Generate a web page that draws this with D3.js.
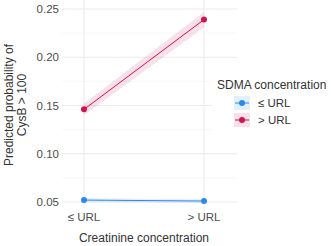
<!DOCTYPE html>
<html><head><meta charset="utf-8">
<script src="https://cdn.jsdelivr.net/npm/d3@7"></script>
<style>body{margin:0;background:#fff}svg{display:block;font-family:"Liberation Sans",Arial,sans-serif}</style>
</head><body><svg id="c" width="331" height="246"></svg>
<script>
const categories = ["≤ URL", "> URL"];
const seriesNames = ["≤ URL", "> URL"];
const seriesColors = ["#2a8ae8", "#cc1452"];
const estLow = [0.052, 0.051];
const lowerLow = [0.050, 0.049];
const upperLow = [0.054, 0.053];
const estHigh = [0.146, 0.239];
const lowerHigh = [0.140, 0.231];
const upperHigh = [0.152, 0.247];
const yTicks = [0.05, 0.10, 0.15, 0.20, 0.25];
const yMinor = [0.075, 0.125, 0.175, 0.225];

const svg = d3.select("#c");
const x = d3.scalePoint().domain(categories).range([84, 204]);
const y = d3.scaleLinear().domain([0.05, 0.25]).range([202, 9]);
const L = 62, R = 237, T = 0, B = 208;

const g = svg.append("g");
g.selectAll(".minor").data(yMinor).join("line")
  .attr("x1", L).attr("x2", R).attr("y1", d => y(d)).attr("y2", d => y(d))
  .attr("stroke", "#f2f2f2").attr("stroke-width", 0.6);
g.selectAll(".major").data(yTicks).join("line")
  .attr("x1", L).attr("x2", R).attr("y1", d => y(d)).attr("y2", d => y(d))
  .attr("stroke", "#ebebeb").attr("stroke-width", 1);
g.selectAll(".vx").data(categories).join("line")
  .attr("x1", d => x(d)).attr("x2", d => x(d)).attr("y1", T).attr("y2", B)
  .attr("stroke", "#ebebeb").attr("stroke-width", 1);

const series = [
  {est: estLow, lo: lowerLow, hi: upperLow, color: seriesColors[0]},
  {est: estHigh, lo: lowerHigh, hi: upperHigh, color: seriesColors[1]}
];
series.forEach(s => {
  const pts = categories.map((c, i) => ({c, e: s.est[i], lo: s.lo[i], hi: s.hi[i]}));
  g.append("path").datum(pts)
    .attr("d", d3.area().x(d => x(d.c)).y0(d => y(d.lo)).y1(d => y(d.hi)))
    .attr("fill", s.color).attr("fill-opacity", 0.13);
  g.append("path").datum(pts)
    .attr("d", d3.line().x(d => x(d.c)).y(d => y(d.e)))
    .attr("stroke", s.color).attr("stroke-width", 1).attr("fill", "none");
  g.selectAll(null).data(pts).join("circle")
    .attr("cx", d => x(d.c)).attr("cy", d => y(d.e)).attr("r", 3)
    .attr("fill", s.color);
});

// y tick labels
svg.append("g").selectAll("text").data(yTicks).join("text")
  .attr("x", 59).attr("y", d => y(d)).attr("dy", "0.35em")
  .attr("text-anchor", "end").attr("font-size", 11.5).attr("fill", "#4d4d4d")
  .text(d => d3.format(".2f")(d));
// x tick labels
svg.append("g").selectAll("text").data(categories).join("text")
  .attr("x", d => x(d)).attr("y", 221)
  .attr("text-anchor", "middle").attr("font-size", 11.5).attr("fill", "#4d4d4d")
  .text(d => d);
// axis titles
svg.append("text").attr("x", 144).attr("y", 242).attr("text-anchor", "middle")
  .attr("font-size", 12).attr("fill", "#333").text("Creatinine concentration");
const yt = svg.append("text").attr("transform", "translate(13,105) rotate(-90)")
  .attr("text-anchor", "middle").attr("font-size", 12).attr("fill", "#333");
yt.append("tspan").attr("x", 0).attr("y", 0).text("Predicted probability of");
yt.append("tspan").attr("x", 0).attr("y", 13).text("CysB > 100");

// legend
const lg = svg.append("g");
lg.append("rect").attr("x", 212).attr("y", 75).attr("width", 119).attr("height", 55).attr("fill", "#fff");
lg.append("text").attr("x", 217).attr("y", 89).attr("font-size", 12).attr("fill", "#333").text("SDMA concentration");
seriesNames.forEach((n, i) => {
  const cy = 103 + i * 17;
  lg.append("rect").attr("x", 234).attr("y", cy - 7).attr("width", 16).attr("height", 14)
    .attr("fill", seriesColors[i]).attr("fill-opacity", 0.13);
  lg.append("line").attr("x1", 235).attr("x2", 249).attr("y1", cy).attr("y2", cy)
    .attr("stroke", seriesColors[i]).attr("stroke-width", 1);
  lg.append("circle").attr("cx", 242).attr("cy", cy).attr("r", 3).attr("fill", seriesColors[i]);
  lg.append("text").attr("x", 258).attr("y", cy).attr("dy", "0.35em")
    .attr("font-size", 11.5).attr("fill", "#333").text(n);
});
</script></body></html>
